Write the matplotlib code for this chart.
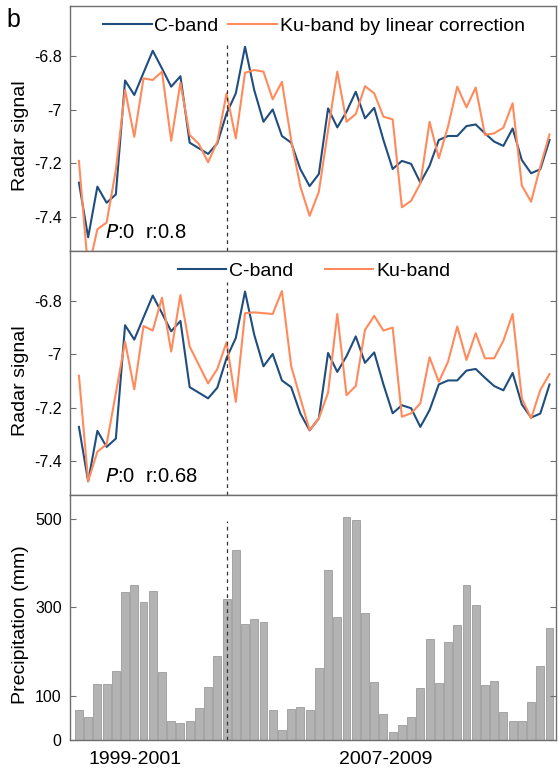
import numpy as np
import matplotlib
matplotlib.use("Agg")
import matplotlib.pyplot as plt

plt.rcParams["font.family"] = ["Liberation Sans", "DejaVu Sans"]
plt.rcParams["axes.unicode_minus"] = False

# monthly series, 52 samples
c_band = [-7.272, -7.476, -7.287, -7.347, -7.316, -6.891, -6.945, -6.862, -6.780, -6.846,
          -6.914, -6.875, -7.123, -7.144, -7.165, -7.125, -7.014, -6.939, -6.765, -6.927,
          -7.045, -6.999, -7.098, -7.123, -7.222, -7.285, -7.240, -6.995, -7.066, -7.007,
          -6.933, -7.032, -6.993, -7.113, -7.221, -7.191, -7.202, -7.272, -7.209, -7.113,
          -7.098, -7.098, -7.061, -7.055, -7.088, -7.119, -7.135, -7.070, -7.188, -7.237,
          -7.222, -7.113]

ku_linear = [-7.191, -7.600, -7.446, -7.421, -7.225, -6.927, -7.101, -6.883, -6.889, -6.858,
             -7.116, -6.899, -7.094, -7.128, -7.196, -7.119, -6.939, -7.107, -6.862, -6.852,
             -6.858, -6.961, -6.896, -7.113, -7.287, -7.396, -7.306, -7.076, -6.858, -7.045,
             -7.016, -6.912, -6.939, -7.026, -7.036, -7.364, -7.340, -7.275, -7.045, -7.181,
             -7.063, -6.914, -6.991, -6.917, -7.094, -7.088, -7.067, -6.976, -7.283, -7.343,
             -7.212, -7.092]

ku_band = [-7.080, -7.475, -7.365, -7.337, -7.146, -6.953, -7.131, -6.894, -6.911, -6.788,
           -6.990, -6.778, -6.971, -7.040, -7.109, -7.055, -6.955, -7.178, -6.846, -6.843,
           -6.846, -6.849, -6.763, -7.044, -7.165, -7.284, -7.240, -7.144, -6.849, -7.153,
           -7.119, -6.909, -6.856, -6.911, -6.900, -7.234, -7.221, -7.184, -7.011, -7.103,
           -7.028, -6.896, -7.021, -6.921, -7.015, -7.015, -6.949, -6.849, -7.165, -7.240,
           -7.134, -7.074]

precip = [68, 51, 127, 127, 157, 334, 350, 312, 336, 154,
          43, 39, 44, 72, 121, 189, 318, 430, 262, 274,
          268, 67, 22, 70, 75, 67, 162, 385, 278, 504,
          497, 287, 132, 60, 19, 33, 51, 117, 228, 129,
          221, 259, 351, 305, 125, 134, 63, 43, 44, 86,
          168, 254]

period_labels = ["1999-2001", "2007-2009"]
period_pos = [6.1, 33.2]
split_idx = 16

x = np.arange(len(c_band))

blue = "#1F4E7E"
orange = "#FF8A5B"
spine_col = "#6E6E6E"
fs = 14

fig = plt.figure(figsize=(5.58, 7.78), dpi=100)
ax1 = fig.add_axes([0.1254, 0.6774, 0.8710, 0.3149])
ax2 = fig.add_axes([0.1254, 0.3638, 0.8710, 0.3136])
ax3 = fig.add_axes([0.1254, 0.0488, 0.8710, 0.3149])


def style(ax):
    for s in ax.spines.values():
        s.set_color(spine_col)
        s.set_linewidth(1.0)
    ax.tick_params(axis="y", direction="in", length=4, width=0.8, color=spine_col,
                   labelsize=11.5, pad=6, right=True)
    ax.tick_params(axis="x", length=0)
    ax.set_xlim(-0.97, 51.7)


# panel 1
ax1.plot(x, c_band, color=blue, lw=1.5, label="C-band")
ax1.plot(x, ku_linear, color=orange, lw=1.5, label="Ku-band by linear correction")
ax1.axvline(split_idx, ymax=0.84, color="#333333", lw=0.9, ls=(0, (3, 3)))
ax1.set_ylim(-7.527, -6.613)
ax1.set_yticks([-7.4, -7.2, -7.0, -6.8])
ax1.set_yticklabels(["-7.4", "-7.2", "-7", "-6.8"])
ax1.set_xticks([])
ax1.legend(loc="upper center", bbox_to_anchor=(0.502, 0.985), ncol=2, frameon=False,
           fontsize=fs, handlelength=2.5, handletextpad=0.15, columnspacing=0.5,
           borderaxespad=0)
ax1.text(0.072, 0.035, r"$\mathit{P}$:0  r:0.8", transform=ax1.transAxes, fontsize=14.5,
         ha="left", va="bottom")
ax1.set_ylabel("Radar signal", fontsize=fs)
ax1.yaxis.set_label_coords(-0.085, 0.47)
style(ax1)

# panel 2
ax2.plot(x, c_band, color=blue, lw=1.5, label="C-band")
ax2.plot(x, ku_band, color=orange, lw=1.5, label="Ku-band")
ax2.axvline(split_idx, ymax=0.873, color="#333333", lw=0.9, ls=(0, (3, 3)))
ax2.set_ylim(-7.527, -6.613)
ax2.set_yticks([-7.4, -7.2, -7.0, -6.8])
ax2.set_yticklabels(["-7.4", "-7.2", "-7", "-6.8"])
ax2.set_xticks([])
ax2.legend(loc="upper center", bbox_to_anchor=(0.502, 0.985), ncol=2, frameon=False,
           fontsize=fs, handlelength=2.5, handletextpad=0.15, columnspacing=1.6,
           borderaxespad=0)
ax2.text(0.072, 0.035, r"$\mathit{P}$:0  r:0.68", transform=ax2.transAxes, fontsize=14.5,
         ha="left", va="bottom")
ax2.set_ylabel("Radar signal", fontsize=fs)
ax2.yaxis.set_label_coords(-0.085, 0.47)
style(ax2)

# panel 3
ax3.bar(x, precip, width=0.86, color="#B3B3B3", edgecolor="#9C9C9C", linewidth=0.6)
ax3.axvline(split_idx, ymax=0.895, color="#333333", lw=0.9, ls=(0, (3, 3)))
ax3.set_ylim(0, 554)
ax3.set_yticks([0, 100, 300, 500])
ax3.set_xticks(period_pos)
ax3.set_xticklabels(period_labels, fontsize=14)
ax3.set_ylabel("Precipitation (mm)", fontsize=fs)
ax3.yaxis.set_label_coords(-0.085, 0.47)
style(ax3)
ax3.tick_params(axis="x", length=0, pad=8)

fig.text(0.012, 0.99, "b", fontsize=18, ha="left", va="top")

fig.savefig("out.png", dpi=100)
